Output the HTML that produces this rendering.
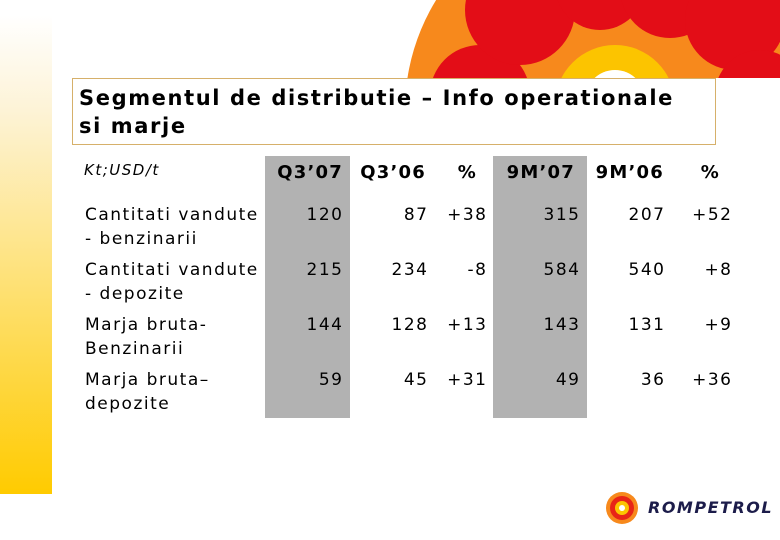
<!DOCTYPE html>
<html><head><meta charset="utf-8"><style>
body{margin:0;width:780px;height:540px;background:#fff;position:relative;overflow:hidden;font-family:"DejaVu Sans","Liberation Sans",sans-serif;color:#000}
.abs{position:absolute}
.gcol{position:absolute;background:#b2b2b2;top:156px;height:262px}
.t{position:absolute;font-size:17px;white-space:nowrap;letter-spacing:1.5px}
.h{font-weight:bold;font-size:18px;letter-spacing:1.2px}
.r{text-align:right}
</style></head><body>
<div class="abs" style="left:0;top:15px;width:52px;height:479px;background:linear-gradient(#ffffff,#fdf3d6 20%,#ffcb00)"></div>
<svg class="abs" style="left:0;top:0" width="780" height="78">
<circle cx="615" cy="110" r="210" fill="#f7891c"/>
<circle cx="480" cy="95" r="50" fill="#e30d17"/>
<circle cx="520" cy="10" r="55" fill="#e30d17"/>
<circle cx="600" cy="-15" r="45" fill="#e30d17"/>
<circle cx="670" cy="-12" r="50" fill="#e30d17"/>
<circle cx="735" cy="20" r="50" fill="#e30d17"/>
<circle cx="760" cy="95" r="45" fill="#e30d17"/>
<circle cx="615" cy="105" r="60" fill="#fcc400"/>
<circle cx="615" cy="100" r="30" fill="#fff"/>
</svg>
<div class="abs" style="left:72px;top:78px;width:642px;height:65px;border:1px solid #d6b06a;background:#fff"></div>
<div class="abs" style="left:79px;top:84px;font-size:21px;font-weight:bold;line-height:28px;letter-spacing:1.6px;white-space:nowrap">Segmentul de distributie – Info operationale<br>si marje</div>
<div class="gcol" style="left:265px;width:85px"></div>
<div class="gcol" style="left:493px;width:94px"></div>
<div class="t" style="left:84px;top:161px;font-style:italic;font-size:15px">Kt;USD/t</div>
<div class="t h" style="left:260px;top:162px;width:83px;text-align:right">Q3’07</div>
<div class="t h" style="left:340px;top:162px;width:86px;text-align:right">Q3’06</div>
<div class="t h" style="left:440px;top:162px;width:37px;text-align:right">%</div>
<div class="t h" style="left:490px;top:162px;width:85px;text-align:right">9M’07</div>
<div class="t h" style="left:580px;top:162px;width:84px;text-align:right">9M’06</div>
<div class="t h" style="left:680px;top:162px;width:40px;text-align:right">%</div>
<div id="rows"></div>
<div class="abs" style="left:605px;top:491px">
<svg width="34" height="34" style="position:absolute;left:0;top:0"><circle cx="17" cy="17" r="16" fill="#f7891c"/><circle cx="17" cy="17" r="12" fill="#e30d17" opacity=".8"/><circle cx="17" cy="17" r="7" fill="#fcc400"/><circle cx="17" cy="17" r="3" fill="#fff"/></svg>
<div style="position:absolute;left:43px;top:7px;font-style:italic;font-weight:bold;font-size:16px;color:#1c1c4a;letter-spacing:1.5px;white-space:nowrap">ROMPETROL</div>
</div>
<script>
const labels=[["Cantitati vandute","- benzinarii"],["Cantitati vandute","- depozite"],["Marja bruta-","Benzinarii"],["Marja bruta–","depozite"]];
const q307=["120","215","144","59"];
const q306=["87","234","128","45"];
const pctQ=["+38","-8","+13","+31"];
const m907=["315","584","143","49"];
const m906=["207","540","131","36"];
const pctM=["+52","+8","+9","+36"];
const rows=document.getElementById('rows');
const cols=[[q307,250,93.5,'q3-07'],[q306,350,78.5,'q3-06'],[pctQ,430,57.5,'pct-q'],[m907,495,85.5,'9m-07'],[m906,585,80.5,'9m-06'],[pctM,680,52.5,'pct-9m']];
labels.forEach((l,i)=>{
  const top=203+i*55;
  const d=document.createElement('div');
  d.className='t';d.style.left='85px';d.style.top=top+'px';d.style.lineHeight='24px';
  d.innerHTML=l[0]+'<br>'+l[1];
  
  
  rows.appendChild(d);
  cols.forEach(c=>{
    const e=document.createElement('div');
    e.className='t r';e.style.left=c[1]+'px';e.style.width=c[2]+'px';e.style.top=top+'px';e.style.lineHeight='24px';
    e.textContent=c[0][i];
    
    
    rows.appendChild(e);
  });
});
</script>
</body></html>
